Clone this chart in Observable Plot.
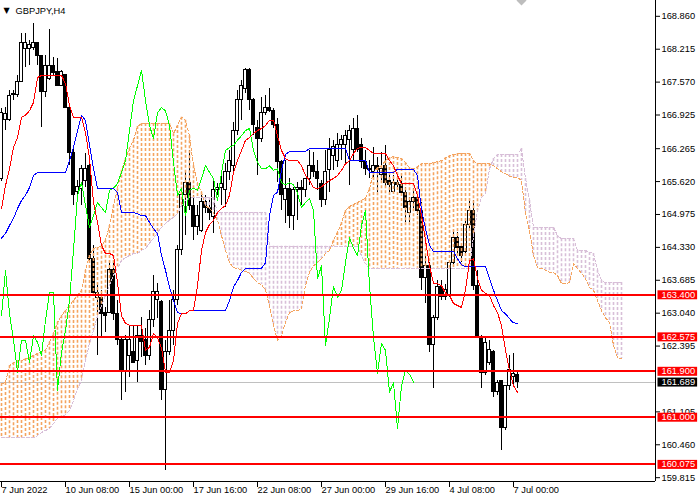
<!DOCTYPE html>
<html>
<head>
<meta charset="utf-8">
<script src="https://cdn.jsdelivr.net/npm/d3@7"></script>
<script src="https://cdn.jsdelivr.net/npm/@observablehq/plot@0.6"></script>
<style>
html, body { margin: 0; padding: 0; background: #fff; }
#chart svg { display: block; }
</style>
</head>
<body>
<div id="chart"></div>
<script>
// ---------- data ----------
const symbolLabel = "GBPJPY,H4";
const xTickBars = [0, 16, 32, 48, 64, 80, 96, 112, 128];
const xTickLabels = ["7 Jun 2022", "10 Jun 08:00", "15 Jun 00:00", "17 Jun 16:00", "22 Jun 08:00", "27 Jun 00:00", "29 Jun 16:00", "4 Jul 08:00", "7 Jul 00:00"];
const yTickLabels = ["168.860", "168.215", "167.570", "166.925", "166.265", "165.620", "164.975", "164.330", "163.685", "163.040", "162.395", "161.105", "160.460", "159.815"];
const levels = [163.400, 162.575, 161.900, 161.000, 160.075];
const lastPrice = 161.689;
const chikouShift = 26;
const shiftBar = 130;

const open = [
165.68,166.83,166.82,167.31,167.31,167.58,168.21,168.21,168.23,168.33,
168.09,167.37,167.64,167.89,167.76,167.50,167.70,167.07,166.19,165.41,
165.48,165.64,165.93,164.11,163.33,163.33,163.05,163.05,163.88,163.03,
162.51,161.88,162.21,162.27,162.11,162.60,162.51,162.21,162.90,163.29,
163.25,161.53,162.27,162.70,163.29,164.27,165.35,165.60,165.15,164.72,
164.66,165.21,165.11,164.92,165.45,165.50,165.45,165.80,165.93,166.62,
167.21,167.44,167.80,167.21,166.68,166.46,166.97,167.07,167.01,166.72,
166.00,165.25,165.48,164.95,165.45,165.49,165.45,165.68,165.93,165.80,
165.58,165.25,165.84,166.13,166.03,166.33,166.33,166.43,166.23,166.66,
166.33,166.00,165.84,165.80,165.93,165.74,165.93,165.64,165.41,165.60,
165.56,165.39,165.01,165.21,165.29,165.05,163.72,163.97,162.41,162.94,
163.56,163.35,163.39,164.03,164.52,164.33,164.23,164.76,165.05,163.58,
162.56,161.86,162.07,162.27,161.49,161.72,160.78,161.62,161.78,161.82];
const high = [
167.05,167.07,167.41,167.41,167.70,168.52,168.52,168.39,168.72,168.35,
168.09,168.09,168.60,168.05,168.03,167.80,167.70,167.11,166.27,165.64,
165.93,166.17,166.09,164.37,163.64,163.49,163.15,164.01,164.01,163.29,
162.54,162.60,162.80,162.80,162.80,162.96,162.74,163.09,163.78,163.62,
163.29,162.51,163.29,163.49,164.37,165.50,165.84,166.23,165.35,165.15,
165.35,165.35,165.25,165.64,165.58,165.74,165.97,166.23,166.78,167.41,
167.60,167.84,167.84,167.25,166.82,167.27,167.31,167.45,167.05,166.86,
166.03,166.03,165.68,165.50,165.60,165.64,165.68,166.23,166.19,166.03,
165.64,166.23,166.47,166.43,166.56,166.52,166.62,166.72,166.86,166.91,
166.47,166.23,166.03,166.29,166.09,166.19,166.33,165.74,165.74,165.78,
165.78,165.50,165.31,165.48,165.35,165.21,164.17,164.03,162.99,163.68,
163.68,163.60,164.03,164.62,164.62,164.37,164.86,165.25,165.25,163.88,
162.60,162.54,162.51,162.31,161.72,161.72,161.62,162.21,162.25,161.92];
const low = [
165.62,166.62,166.80,167.21,167.27,167.56,167.85,167.89,168.19,167.89,
166.68,167.27,167.60,167.70,167.50,167.50,167.07,165.93,165.15,165.31,
165.15,165.50,164.07,163.37,162.21,162.54,162.66,163.03,162.90,162.41,
161.33,161.49,161.78,162.05,161.68,162.17,162.01,162.11,162.76,162.94,
161.33,159.96,162.21,162.41,163.19,164.17,164.56,165.05,164.47,164.56,
164.62,164.99,164.86,164.60,165.35,165.15,165.11,165.64,165.74,166.52,
166.82,167.35,167.01,166.52,165.74,166.39,166.91,166.97,166.66,165.60,
165.05,164.80,164.70,164.66,164.86,165.15,165.31,165.54,165.70,165.45,
165.11,165.15,165.41,165.84,165.90,166.03,165.93,165.54,166.03,166.19,
165.87,165.74,165.68,165.68,165.41,165.64,165.48,165.35,165.39,165.48,
165.33,164.82,164.82,165.09,164.95,163.49,163.23,162.27,161.56,162.90,
163.29,163.29,163.35,163.97,164.21,164.03,164.19,164.70,163.49,162.54,
161.56,161.82,162.01,161.39,161.43,160.35,160.74,161.53,161.62,161.56];
const close = [
166.97,166.95,167.29,167.33,167.58,168.33,168.33,168.29,168.33,168.09,
167.37,167.89,167.89,167.74,167.50,167.76,167.07,166.19,165.35,165.52,
165.87,165.87,164.11,163.43,163.43,163.03,162.99,163.88,163.03,162.51,
161.88,162.51,162.51,162.07,162.60,162.47,162.21,162.90,163.45,163.45,
161.53,162.27,162.70,163.29,164.27,165.35,165.60,165.15,164.72,164.95,
165.21,165.11,165.01,165.45,165.49,165.58,165.80,166.03,166.62,167.21,
167.50,167.80,167.21,166.72,166.46,166.97,167.07,167.01,166.72,166.00,
165.35,165.48,164.95,165.45,165.49,165.45,165.68,165.93,165.80,165.68,
165.25,165.80,166.23,166.29,166.33,166.43,166.52,166.62,166.66,166.23,
166.00,165.87,165.87,165.93,165.84,165.87,165.60,165.56,165.60,165.56,
165.39,165.11,165.21,165.29,165.05,163.72,163.97,162.41,162.94,163.56,
163.35,163.49,164.03,164.52,164.31,164.17,164.76,165.05,163.58,162.56,
161.86,162.45,162.31,161.49,161.68,160.78,161.62,161.92,161.84,161.689];

const tenkan = [
165.09,165.54,165.87,166.29,166.48,166.88,166.92,167.01,167.17,167.66,
167.70,167.70,167.70,167.70,167.70,167.70,167.54,167.11,166.88,166.88,
166.88,166.58,166.07,165.21,164.82,164.37,164.21,164.21,164.17,163.64,
162.99,162.84,162.80,162.80,162.80,162.80,162.31,162.37,162.64,162.56,
162.35,161.88,161.88,162.11,162.84,163.03,163.03,163.09,163.09,163.58,
164.27,164.62,164.78,164.86,165.01,165.09,165.15,165.35,165.80,166.03,
166.23,166.43,166.48,166.56,166.62,166.66,166.72,166.82,166.82,166.52,
166.23,166.07,166.03,166.03,166.03,165.93,165.74,165.64,165.50,165.48,
165.52,165.58,165.64,165.68,165.74,165.84,165.97,166.03,166.17,166.27,
166.29,166.29,166.23,166.17,166.17,166.17,166.17,166.03,165.93,165.74,
165.58,165.58,165.58,165.58,165.35,164.95,164.47,163.97,163.62,163.62,
163.58,163.43,163.39,163.23,163.19,163.15,163.49,164.07,164.11,163.72,
163.49,163.43,163.39,163.19,163.05,162.80,162.31,161.92,161.62,161.49];
const kijun = [
164.51,164.60,164.76,164.90,165.09,165.25,165.35,165.50,165.74,165.80,
165.80,165.80,165.80,165.80,165.80,165.80,165.80,166.03,166.29,166.62,
166.92,166.82,166.33,165.87,165.48,165.48,165.48,165.48,165.48,165.41,
165.01,165.01,165.01,165.01,164.99,164.95,164.95,164.82,164.70,164.60,
164.17,163.88,163.55,163.29,163.05,163.03,163.03,163.09,163.09,163.09,
163.09,163.09,163.09,163.09,163.09,163.09,163.09,163.29,163.55,163.68,
163.84,163.92,163.92,163.92,163.92,163.92,164.03,164.95,165.35,165.41,
165.84,166.15,166.21,166.21,166.21,166.21,166.21,166.27,166.27,166.27,
166.27,166.27,166.27,166.27,166.27,166.27,166.27,166.03,166.03,166.03,
166.03,166.03,165.80,165.80,165.80,165.80,165.80,165.80,165.80,165.86,
165.86,165.86,165.86,165.86,165.74,165.05,164.70,164.37,164.25,164.25,
164.25,164.25,164.25,164.25,164.11,163.99,163.95,163.95,163.95,163.95,
163.95,163.95,163.72,163.49,163.29,163.09,163.03,162.93,162.85,162.84];
const senkouA = [
161.66,161.68,162.01,162.07,162.11,162.11,162.15,162.17,162.21,162.25,
162.27,162.31,162.47,162.64,162.86,162.99,163.09,163.19,163.29,163.39,
163.49,163.88,164.17,164.31,164.33,164.35,164.47,164.76,165.15,165.48,
165.84,166.07,166.27,166.43,166.70,166.76,166.76,166.76,166.76,166.76,
166.76,166.76,166.76,166.56,166.72,166.88,166.82,166.52,165.93,165.58,
165.41,165.15,165.09,165.01,164.86,164.56,164.27,164.03,163.93,163.92,
163.88,163.86,163.82,163.72,163.64,163.60,163.49,163.19,162.80,162.51,
162.60,162.86,163.05,163.09,163.09,163.13,163.58,163.84,163.97,164.03,
164.11,164.21,164.27,164.47,164.62,164.82,165.05,165.13,165.17,165.21,
165.25,165.29,165.48,165.80,165.89,165.93,166.03,166.09,166.11,166.09,
166.07,165.99,165.89,165.87,165.91,165.97,165.97,165.97,165.99,166.01,
166.03,166.09,166.13,166.15,166.17,166.17,166.17,166.17,166.03,165.97,
165.97,165.97,165.97,165.93,165.87,165.81,165.78,165.72,165.70,165.70,
165.64,164.99,164.66,164.17,163.93,163.92,163.88,163.84,163.84,163.78,
163.62,163.62,163.64,164.01,163.92,163.82,163.72,163.54,163.49,163.29,
163.09,162.95,162.86,162.41,162.17,162.15];
const senkouB = [
160.60,160.60,160.60,160.60,160.60,160.60,160.60,160.60,160.60,160.64,
160.70,160.74,160.78,160.88,160.98,161.02,161.05,161.13,161.33,161.56,
161.72,162.11,162.45,162.70,162.99,163.19,163.39,163.58,163.78,163.92,
164.07,164.13,164.17,164.21,164.21,164.27,164.31,164.41,164.51,164.62,
164.72,164.80,164.86,164.92,164.99,165.15,165.25,165.31,165.31,165.31,
165.31,165.31,165.31,165.31,165.01,165.01,165.01,165.01,165.01,165.01,
165.01,165.01,165.01,165.01,165.01,165.01,165.01,164.35,164.35,164.35,
164.35,164.35,164.35,164.35,164.35,164.35,164.35,164.35,164.35,164.35,
164.35,164.35,164.35,164.35,164.35,164.35,164.35,164.35,164.35,164.35,
164.17,164.01,163.92,163.92,163.92,163.92,163.92,163.92,163.92,163.92,
163.92,163.92,163.92,163.92,163.92,163.92,163.92,163.92,163.92,163.92,
163.92,163.92,163.92,163.92,163.92,163.92,163.92,163.92,164.56,165.05,
165.31,165.39,165.87,166.07,166.15,166.15,166.15,166.15,166.15,166.15,
166.27,165.68,165.25,164.72,164.72,164.72,164.72,164.72,164.72,164.56,
164.50,164.50,164.50,164.50,164.27,164.27,164.27,164.23,164.21,163.88,
163.68,163.64,163.64,163.64,163.64,163.64];

// ---------- derived tables ----------
const candles = close.map((c, i) => ({i, o: open[i], h: high[i], l: low[i], c}));
const bullCandles = candles.filter(d => d.c >= d.o);
const bearCandles = candles.filter(d => d.c < d.o);
const chikou = close.slice(chikouShift).map((v, i) => ({i, v}));
const tenkanData = tenkan.map((v, i) => ({i, v}));
const kijunData = kijun.map((v, i) => ({i, v}));
const cloud = senkouA.map((a, i) => ({i, lo: Math.min(a, senkouB[i]), hi: Math.max(a, senkouB[i]), a, b: senkouB[i]}));
const cloudUp = cloud.filter(d => d.a >= d.b);
const cloudDown = cloud.filter(d => d.a < d.b);

const xDomain = [-0.25, 163.5];
const yDomain = [159.74, 169.17];
const SANDY = "#f4a460", THISTLE = "#d8bfd8";
const crisp = "crispEdges";

const plot = Plot.plot({
  width: 700,
  height: 500,
  marginLeft: 0,
  marginRight: 45,
  marginTop: 0,
  marginBottom: 19,
  x: {domain: xDomain, label: null},
  y: {domain: yDomain, label: null},
  style: {fontFamily: "'Liberation Sans', Arial, sans-serif", fontSize: "9.3px", background: "#fff", color: "#000"},
  marks: [
    Plot.ruleY([lastPrice], {stroke: "#c0c0c0", strokeWidth: 1, shapeRendering: crisp}),
    Plot.ruleX(candles, {x: "i", y1: "l", y2: "h", stroke: "#000000", strokeWidth: 1, shapeRendering: crisp}),
    Plot.rect(bullCandles, {
      x1: d => d.i - 0.3, x2: d => d.i + 0.3, y1: "o", y2: "c",
      fill: "#ffffff", stroke: "#000000", strokeWidth: 1, shapeRendering: crisp
    }),
    Plot.rect(bearCandles, {
      x1: d => d.i - 0.3, x2: d => d.i + 0.3, y1: "o", y2: "c",
      fill: "#000000", stroke: "#000000", strokeWidth: 1, shapeRendering: crisp
    }),
    Plot.ruleX(cloudUp, {x: "i", y1: "hi", y2: "lo", stroke: SANDY, strokeOpacity: 1, strokeWidth: 1.6, strokeDasharray: "3 2"}),
    Plot.ruleX(cloudDown, {x: "i", y1: "hi", y2: "lo", stroke: THISTLE, strokeOpacity: 1, strokeWidth: 1.6, strokeDasharray: "3 2"}),
    Plot.line(cloud, {x: "i", y: "a", stroke: SANDY, strokeWidth: 1, strokeDasharray: "3 2", shapeRendering: crisp}),
    Plot.line(cloud, {x: "i", y: "b", stroke: THISTLE, strokeWidth: 1, strokeDasharray: "3 2", shapeRendering: crisp}),
    Plot.line(chikou, {x: "i", y: "v", stroke: "#00ff00", strokeWidth: 1, shapeRendering: crisp}),
    Plot.line(kijunData, {x: "i", y: "v", stroke: "#0000ff", strokeWidth: 1, shapeRendering: crisp}),
    Plot.line(tenkanData, {x: "i", y: "v", stroke: "#ff0000", strokeWidth: 1, shapeRendering: crisp}),
    Plot.ruleY(levels, {stroke: "#ff0000", strokeWidth: 2, shapeRendering: crisp}),
    Plot.ruleX([xDomain[1]], {stroke: "#000000", strokeWidth: 1, shapeRendering: crisp}),
    Plot.ruleY([yDomain[0]], {stroke: "#000000", strokeWidth: 1, shapeRendering: crisp}),
    Plot.axisY(yTickLabels.map(Number), {
      anchor: "right", tickSize: 4, tickPadding: 2, label: null,
      tickFormat: d => d.toFixed(3)
    }),
    Plot.axisX(xTickBars, {
      anchor: "bottom", tickSize: 6, tickPadding: -1, label: null,
      textAnchor: "start",
      tickFormat: d => xTickLabels[xTickBars.indexOf(d)]
    }),
    Plot.text(levels, {
      y: d => d, text: d => d.toFixed(3), frameAnchor: "right", dx: 6,
      textAnchor: "start", fill: "#ffffff"
    }),
    Plot.text([lastPrice], {
      y: d => d, text: d => d.toFixed(3), frameAnchor: "right", dx: 6,
      textAnchor: "start", fill: "#ffffff"
    }),
    Plot.text([symbolLabel], {text: d => d, frameAnchor: "top-left", dx: 15, dy: 7, textAnchor: "start", fill: "#000000"}),
    Plot.text(["\u25BC"], {text: d => d, frameAnchor: "top-left", dx: 3, dy: 7, textAnchor: "start", fill: "#000000", fontSize: 8, fontFamily: "DejaVu Sans"}),
    Plot.dot([{i: shiftBar, p: yDomain[1]}], {x: "i", y: "p", symbol: "diamond2", r: 4.5, fill: "#bdbdbd", stroke: "none"})
  ]
});

document.getElementById("chart").append(plot);

// background boxes behind the price-level labels on the right scale
const redLabels = new Set(levels.map(d => d.toFixed(3)));
const blackLabels = new Set([lastPrice.toFixed(3)]);
d3.select(plot).selectAll("text").each(function () {
  const s = this.textContent;
  const color = redLabels.has(s) ? "#ff0000" : blackLabels.has(s) ? "#000000" : null;
  if (!color) return;
  const b = this.getBBox();
  const r = document.createElementNS("http://www.w3.org/2000/svg", "rect");
  r.setAttribute("x", b.x - 4);
  r.setAttribute("y", b.y + 0.5);
  r.setAttribute("width", b.width + 6);
  r.setAttribute("height", b.height - 1);
  r.setAttribute("fill", color);
  r.setAttribute("stroke", "none");
  const t = this.getAttribute("transform");
  if (t) r.setAttribute("transform", t);
  this.parentNode.insertBefore(r, this);
});
</script>
</body>
</html>
